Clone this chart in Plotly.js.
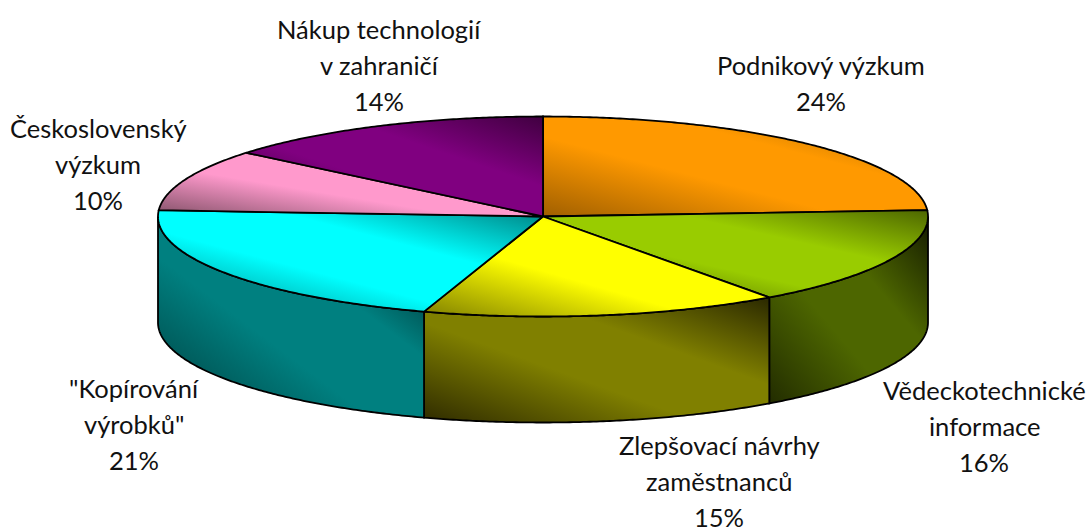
<!DOCTYPE html>
<html>
<head>
<meta charset="utf-8">
<script src="https://cdn.plot.ly/plotly-3.0.1.min.js"></script>
<style>html,body{margin:0;padding:0;background:#fff}#chart{width:1090px;height:530px}</style>
</head>
<body>
<div id="chart"></div>
<script>
// Data
const categories = [
  ["Podnikový výzkum"],
  ["Vědeckotechnické", "informace"],
  ["Zlepšovací návrhy", "zaměstnanců"],
  ["\"Kopírování", "výrobků\""],
  ["Československý", "výzkum"],
  ["Nákup technologií", "v zahraničí"]
];
const values = [24, 16, 15, 21, 10, 14];

// Styles
const topColors  = ["#FF9900", "#99CC00", "#FFFF00", "#00FFFF", "#FF99CC", "#800080"];
const topShadeLow  = ["#A05F00", "#4D6600", "#808000", "#008080", "#805066", "#400040"];
const topShadeHigh = ["#A05F00", "#3F5400", "#808000", "#007F7F", "#805066", "#300030"];
const wallColors = ["#805000", "#4D6600", "#808000", "#008080", "#804D66", "#400040"];
const wallShadeLow  = ["#201000", "#141A00", "#2A2800", "#001010", "#201019", "#100010"];
const wallShadeHigh = ["#201000", "#222C00", "#2E2A00", "#003C3C", "#201019", "#100010"];

// Label placement (centre of each text block, first line)
const labelX = [821, 984, 719, 134, 98, 379];
const labelY = [65, 390, 445, 388, 128, 29];
const lineGap = 36.2;

// Projection of the disc, in the page's pixel scale
const cx = 543, cy = 216.5, rx = 385, ry = 100, depth = 106;
const pt = (deg, dy) => {
  const r = deg * Math.PI / 180;
  return [cx + rx * Math.sin(r), cy - ry * Math.cos(r) + (dy || 0)];
};
const arc = (a, b, dy) => {
  const n = Math.max(2, Math.ceil(Math.abs(b - a) * 2));
  const out = [];
  for (let i = 0; i <= n; i++) out.push(pt(a + (b - a) * i / n, dy));
  return out;
};
const grad = (low, main, high) => ({
  type: "horizontal",
  colorscale: [[0, low], [0.35, main], [0.6, main], [1, high]]
});
const poly = (points, fg) => ({
  type: "scatter", mode: "lines", fill: "toself",
  x: points.map(p => p[0]), y: points.map(p => p[1]),
  line: {color: "#000", width: 1.8, simplify: false},
  fillgradient: fg, hoverinfo: "skip", showlegend: false
});

const total = values.reduce((s, v) => s + v, 0);
let acc = 0;
const spans = values.map(v => { const a = acc; acc += v / total * 360; return [a, acc]; });

const traces = [];
// Visible outer walls (front half of the rim)
spans.forEach(([a, b], i) => {
  const s = Math.max(a, 90), e = Math.min(b, 270);
  if (e <= s) return;
  const pts = arc(s, e, 0).concat(arc(e, s, depth));
  pts.push(pts[0]);
  traces.push(poly(pts, grad(wallShadeLow[i], wallColors[i], wallShadeHigh[i])));
});
// Top face
spans.forEach(([a, b], i) => {
  const pts = [[cx, cy]].concat(arc(a, b, 0));
  pts.push([cx, cy]);
  traces.push(poly(pts, grad(topShadeLow[i], topColors[i], topShadeHigh[i])));
});

const annotations = [];
categories.forEach((lines, i) => {
  lines.concat([Math.round(values[i] / total * 100) + "%"]).forEach((t, k) => {
    annotations.push({
      x: labelX[i], y: labelY[i] + k * lineGap, xref: "x", yref: "y",
      text: t, showarrow: false, xanchor: "center", yanchor: "middle",
      font: {family: "Lato, 'Open Sans', sans-serif", size: 25.5, color: "#111"}
    });
  });
});

const layout = {
  width: 1090, height: 530,
  margin: {l: 0, r: 0, t: 0, b: 0},
  paper_bgcolor: "#fff", plot_bgcolor: "#fff", showlegend: false,
  xaxis: {range: [0, 1090], visible: false, fixedrange: true},
  yaxis: {range: [530, 0], visible: false, fixedrange: true},
  annotations
};

Plotly.newPlot("chart", traces, layout, {displayModeBar: false, staticPlot: true}).then(() => {
  // Turn the horizontal fill gradients into the chart's diagonal lighting
  document.querySelectorAll("#chart linearGradient").forEach(g => {
    g.setAttribute("x1", "0"); g.setAttribute("y1", "1");
    g.setAttribute("x2", "1"); g.setAttribute("y2", "0");
  });
});
</script>
</body>
</html>
